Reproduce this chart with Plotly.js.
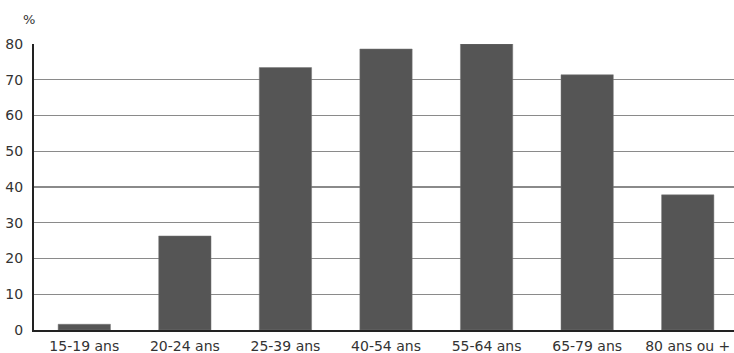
<!DOCTYPE html>
<html><head><meta charset="utf-8">
<script src="https://cdn.plot.ly/plotly-3.0.1.min.js"></script>
<style>html,body{margin:0;padding:0;background:#fff}</style>
</head><body>
<div id="chart" style="width:734px;height:353px"></div>
<script>
const categories = ["15-19 ans","20-24 ans","25-39 ans","40-54 ans","55-64 ans","65-79 ans","80 ans ou +"];
const values = [1.6, 26.3, 73.4, 78.6, 80.0, 71.4, 37.8];
const yTicks = [0,10,20,30,40,50,60,70,80];

Plotly.newPlot('chart', [{
  type:'bar', x:categories, y:values,
  marker:{color:'#555555', line:{color:'#777', width:0.5}},
  hoverinfo:'none'
}], {
  width:734, height:353,
  margin:{l:34, r:0, t:44, b:23},
  paper_bgcolor:'#fff', plot_bgcolor:'#fff',
  bargap:0.48,
  showlegend:false,
  font:{family:'DejaVu Sans, Verdana, sans-serif', size:14, color:'#333'},
  xaxis:{type:'category', range:[-0.5,6.46], showgrid:false, showline:true, linecolor:'#222', linewidth:2, ticks:'', tickfont:{size:14, color:'#333'}, ticklabelstandoff:2, zeroline:false},
  yaxis:{range:[0,80], tickvals:yTicks, showgrid:true, gridcolor:'#8a8a8a', gridwidth:1.2, showline:true, linecolor:'#222', linewidth:2, ticks:'', ticklabelstandoff:6, zeroline:false, tickfont:{size:14, color:'#333'}},
  annotations:[{text:'%', xref:'paper', yref:'paper', x:-0.007, y:1.0, yshift:25, xanchor:'center', yanchor:'middle', showarrow:false, font:{size:13, color:'#333'}}]
}, {staticPlot:true});
</script>
</body></html>
